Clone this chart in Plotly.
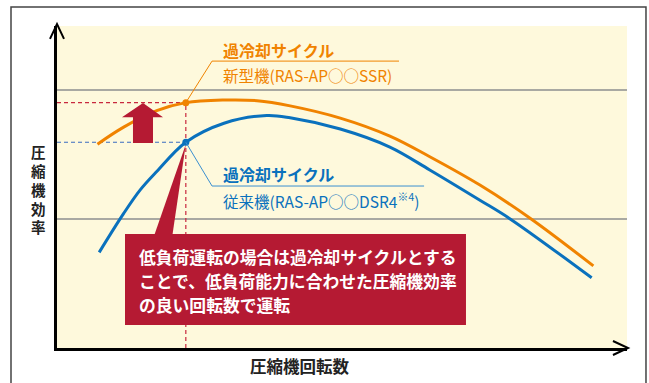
import plotly.graph_objects as go

# ---- data (arbitrary 0-100 units) ----
speed_new = [7.1, 11.7, 17.5, 22.6, 29.3, 35.1, 40.9, 49.7, 58.4, 65.4, 74.2, 83.0, 94.1]
eff_new = [63.3, 68.6, 73.7, 76.2, 77.0, 76.8, 75.2, 71.4, 65.8, 59.4, 50.6, 40.3, 25.5]

speed_old = [7.4, 11.7, 14.6, 17.5, 22.6, 29.3, 36.8, 40.9, 49.7, 58.4, 65.4, 74.2, 79.5, 93.8]
eff_old = [29.7, 41.8, 49.1, 54.8, 63.9, 69.8, 72.2, 71.5, 68.0, 62.4, 55.3, 45.9, 40.1, 21.8]

op_speed = 22.6          # low-load operating point
op_new = 76.2
op_old = 63.9
grid_levels = [40, 80]

label_cycle = "過冷却サイクル"
label_new = "新型機(RAS-AP○○SSR)"
label_old = "従来機(RAS-AP○○DSR4<sup>※4</sup>)"
callout_lines = ["低負荷運転の場合は過冷却サイクルとする",
                 "ことで、低負荷能力に合わせた圧縮機効率",
                 "の良い回転数で運転"]
y_title = "圧縮機効率"
x_title = "圧縮機回転数"

ORANGE = "#f08300"
BLUE = "#0a71bd"
RED = "#b51a33"
FONT = "Noto Sans CJK JP"

fig = go.Figure()
fig.add_trace(go.Scatter(x=speed_new, y=eff_new, mode="lines",
                         line=dict(color=ORANGE, width=3, shape="spline"), hoverinfo="skip"))
fig.add_trace(go.Scatter(x=speed_old, y=eff_old, mode="lines",
                         line=dict(color=BLUE, width=3, shape="spline"), hoverinfo="skip"))
fig.add_trace(go.Scatter(x=[op_speed], y=[op_new], mode="markers",
                         marker=dict(color=ORANGE, size=7), hoverinfo="skip"))
fig.add_trace(go.Scatter(x=[op_speed], y=[op_old], mode="markers",
                         marker=dict(color=BLUE, size=7), hoverinfo="skip"))

shapes = []
# dashed reference lines
shapes.append(dict(type="line", xref="x", yref="y", x0=0, x1=op_speed, y0=op_new, y1=op_new,
                   line=dict(color="#c8283e", width=1.2, dash="4px,3px"), layer="between"))
shapes.append(dict(type="line", xref="x", yref="y", x0=op_speed, x1=op_speed, y0=0, y1=op_new,
                   line=dict(color="#c8283e", width=1.2, dash="4px,3px"), layer="between"))
shapes.append(dict(type="line", xref="x", yref="y", x0=0, x1=op_speed, y0=op_old, y1=op_old,
                   line=dict(color="#3a6cc0", width=1.2, dash="4px,3px"), layer="between"))
# leader lines + underlines
shapes.append(dict(type="path", xref="x", yref="y",
                   path=f"M {op_speed},{op_new} L 27.2,89.1 L 60.0,89.1",
                   line=dict(color=ORANGE, width=1), layer="above"))
shapes.append(dict(type="path", xref="x", yref="y",
                   path=f"M {op_speed},{op_old} L 27.2,50.3 L 64.4,50.3",
                   line=dict(color="#3a8fd0", width=1), layer="above"))
# up arrow
shapes.append(dict(type="path", xref="x", yref="y",
                   path="M 13.33,63.7 L 16.84,63.7 L 16.84,71.7 L 18.6,71.7 L 15.09,76.1 L 11.4,71.7 L 13.33,71.7 Z",
                   fillcolor=RED, line=dict(width=0), layer="above"))
# callout pointer and box
shapes.append(dict(type="path", xref="x", yref="y",
                   path=f"M 16.96,34.5 L 20.2,34.5 L {op_speed},{op_old - 0.6} Z",
                   fillcolor=RED, line=dict(width=0), layer="between"))
shapes.append(dict(type="rect", xref="x", yref="y", x0=11.93, x1=71.75, y0=7.14, y1=35.4,
                   fillcolor=RED, line=dict(width=0), layer="above"))
# axis arrowheads
shapes.append(dict(type="path", xref="paper", yref="paper",
                   path="M -0.0123,0.96 L 0,1.006 L 0.0123,0.96",
                   line=dict(color="black", width=2)))
shapes.append(dict(type="path", xref="paper", yref="paper",
                   path="M 0.9754,0.0217 L 1.0018,0 L 0.9754,-0.0217",
                   line=dict(color="black", width=2)))
# outer frame
shapes.append(dict(type="rect", xref="paper", yref="paper",
                   x0=-0.0807, x1=1.0333, y0=-0.2, y1=1.059,
                   line=dict(color="#444444", width=1.5)))

annotations = []
def label(text, x, y, color, size, bold=False):
    annotations.append(dict(text=f"<b>{text}</b>" if bold else text, x=x, y=y, xref="x", yref="y",
                            xanchor="left", yanchor="middle", showarrow=False,
                            font=dict(family=FONT, size=size, color=color)))

label(label_cycle, 28.8, 92.7, ORANGE, 16, bold=True)
label(label_new, 28.8, 84.8, ORANGE, 15.5)
label(label_cycle, 28.8, 54.0, BLUE, 16, bold=True)
label(label_old, 28.8, 46.0, BLUE, 15.5)

callout_y = [28.26, 20.81, 13.35]
for txt, yy in zip(callout_lines, callout_y):
    label(txt, 14.0, yy, "white", 16.8, bold=True)

# vertical y-axis title, stacked one character per line
annotations.append(dict(text="<b>" + "<br>".join(y_title) + "</b>", x=-0.0333, y=0.495,
                        xref="paper", yref="paper", xanchor="center", yanchor="middle",
                        showarrow=False, font=dict(family=FONT, size=14.5, color="#222222")))
annotations.append(dict(text=f"<b>{x_title}</b>", x=0.4263, y=-0.056, xref="paper", yref="paper",
                        xanchor="center", yanchor="middle", showarrow=False,
                        font=dict(family=FONT, size=16.5, color="#222222")))

fig.update_layout(
    width=649, height=383,
    margin=dict(l=57, r=22, t=26, b=35),
    paper_bgcolor="white", plot_bgcolor="#fef9dc",
    showlegend=False,
    shapes=shapes, annotations=annotations,
    xaxis=dict(range=[0, 100], showgrid=False, zeroline=False, showticklabels=False,
               ticks="", showline=True, linecolor="black", linewidth=2.5, fixedrange=True),
    yaxis=dict(range=[0, 100], tickvals=grid_levels, showgrid=True, gridcolor="#a9a9a2", gridwidth=1.5,
               zeroline=False, showticklabels=False, ticks="", showline=True,
               linecolor="black", linewidth=2.5, fixedrange=True),
)

fig.write_html("out.html", config={"displayModeBar": False},
               post_script="document.body.style.margin='0';document.body.style.overflow='hidden';")
